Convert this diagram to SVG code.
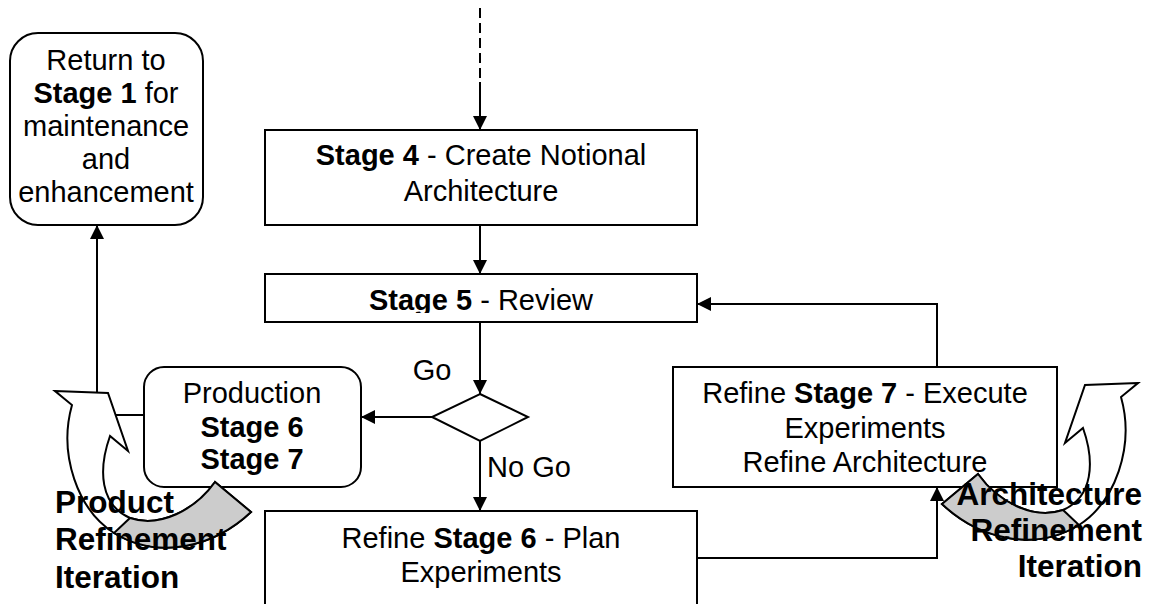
<svg xmlns="http://www.w3.org/2000/svg" width="1155" height="604" viewBox="0 0 1155 604">
<style>
.box{fill:#fff;stroke:#000;stroke-width:2}
.t{font-family:"Liberation Sans",Arial,sans-serif;font-size:29px;text-anchor:middle;fill:#000}
.b{font-weight:bold}
.lbl{font-family:"Liberation Sans",Arial,sans-serif;font-size:31.5px;font-weight:bold;fill:#000}
.conn{stroke:#000;stroke-width:2;fill:none}
.curl-w{fill:#fff;stroke:#000;stroke-width:2;stroke-linejoin:miter}
.curl-g{fill:#cccccc;stroke:#000;stroke-width:2}
</style>
<defs>
<marker id="ah" markerUnits="userSpaceOnUse" markerWidth="14" markerHeight="14" refX="14" refY="7" orient="auto">
<path d="M0,0 L14,7 L0,14 Z" fill="#000"/>
</marker>
<clipPath id="clip5"><rect x="266" y="275" width="430" height="38"/></clipPath>
<g id="curl">
<path class="curl-w" d="M55,391 L108,393 L128,451 L110,436 C98,470 100,505 130,518 C160,528 195,510 215,482 L251,512 C215,546 160,561 114,533 C78,510 58,455 72,405 Z"/>
<path class="curl-g" d="M215,482 L251,512 C215,546 160,561 114,533 L130,518 C160,528 195,510 215,482 Z"/>
</g>
</defs>
<rect width="1155" height="604" fill="#fff"/>

<g id="connectors">
<line class="conn" x1="480" y1="8" x2="480" y2="82" stroke-dasharray="10,5"/>
<line class="conn" x1="480" y1="82" x2="480" y2="130" marker-end="url(#ah)"/>
<line class="conn" x1="480" y1="225" x2="480" y2="274" marker-end="url(#ah)"/>
<line class="conn" x1="480" y1="322" x2="480" y2="394" marker-end="url(#ah)"/>
<line class="conn" x1="432" y1="417" x2="361" y2="417" marker-end="url(#ah)"/>
<line class="conn" x1="480" y1="441" x2="480" y2="511" marker-end="url(#ah)"/>
<polyline class="conn" points="697,558 937,558 937,487" marker-end="url(#ah)"/>
<polyline class="conn" points="937,367 937,304 697,304" marker-end="url(#ah)"/>
<polyline class="conn" points="144,415 97,415 97,225" marker-end="url(#ah)"/>
<text class="t" x="432" y="380">Go</text>
<text class="t" x="487" y="477" style="text-anchor:start">No Go</text>
</g>

<g id="return">
<rect class="box" x="10" y="33" width="193" height="192" rx="28"/>
<text class="t" x="106" y="70">Return to</text>
<text class="t" x="106" y="103"><tspan class="b">Stage 1</tspan> for</text>
<text class="t" x="106" y="136">maintenance</text>
<text class="t" x="106" y="169">and</text>
<text class="t" x="106" y="202">enhancement</text>
</g>

<g id="stage4">
<rect class="box" x="265" y="130" width="432" height="95"/>
<text class="t" x="481" y="165"><tspan class="b">Stage 4</tspan> - Create Notional</text>
<text class="t" x="481" y="201">Architecture</text>
</g>

<g id="stage5">
<rect class="box" x="265" y="274" width="432" height="48"/>
<text class="t" x="481" y="310" clip-path="url(#clip5)"><tspan class="b">Stage 5</tspan> - Review</text>
</g>

<g id="decision">
<polygon class="box" points="480,394 528,417 480,441 432,417"/>
</g>

<g id="production">
<rect class="box" x="144" y="367" width="217" height="120" rx="20"/>
<text class="t" x="252" y="403">Production</text>
<text class="t b" x="252" y="437">Stage 6</text>
<text class="t b" x="252" y="469">Stage 7</text>
</g>

<g id="stage6">
<rect class="box" x="265" y="511" width="432" height="110"/>
<text class="t" x="481" y="548">Refine <tspan class="b">Stage 6</tspan> - Plan</text>
<text class="t" x="481" y="582">Experiments</text>
</g>

<g id="stage7">
<rect class="box" x="673" y="367" width="384" height="120"/>
<text class="t" x="865" y="403">Refine <tspan class="b">Stage 7</tspan> - Execute</text>
<text class="t" x="865" y="438">Experiments</text>
<text class="t" x="865" y="472">Refine Architecture</text>
</g>

<g id="product-iteration">
<use href="#curl"/>
<text class="lbl" x="55" y="513">Product</text>
<text class="lbl" x="55" y="550">Refinement</text>
<text class="lbl" x="55" y="588">Iteration</text>
</g>

<g id="architecture-iteration">
<use href="#curl" transform="translate(1193,-8) scale(-1,1)"/>
<text class="lbl" x="1142" y="505" text-anchor="end">Architecture</text>
<text class="lbl" x="1142" y="541" text-anchor="end">Refinement</text>
<text class="lbl" x="1142" y="577" text-anchor="end">Iteration</text>
</g>
</svg>
